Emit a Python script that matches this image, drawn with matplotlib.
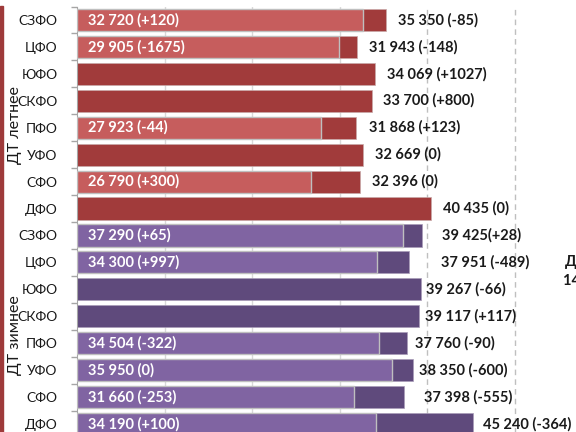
import matplotlib.pyplot as plt
from matplotlib.patches import Rectangle

plt.rcParams['font.family'] = ['Lato', 'DejaVu Sans']

regions = ['СЗФО', 'ЦФО', 'ЮФО', 'СКФО', 'ПФО', 'УФО', 'СФО', 'ДФО']

# летнее ДТ: полная цена и цена без наценки (None - нет данных)
summer_total = [35350, 31943, 34069, 33700, 31868, 32669, 32396, 40435]
summer_total_chg = ['-85', '-148', '+1027', '+800', '+123', '0', '0', '0']
summer_base = [32720, 29905, None, None, 27923, None, 26790, None]
summer_base_chg = ['+120', '-1675', None, None, '-44', None, '+300', None]

# зимнее ДТ
winter_total = [39425, 37951, 39267, 39117, 37760, 38350, 37398, 45240]
winter_total_chg = ['+28', '-489', '-66', '+117', '-90', '-600', '-555', '-364']
winter_base = [37290, 34300, None, None, 34504, 35950, 31660, 34190]
winter_base_chg = ['+65', '+997', None, None, '-322', '0', '-253', '+100']

# отступ подписи от конца столбца, px
summer_dx = [12, 12, 12, 11, 13, 12, 12, 12]
winter_dx = [20, 32, 5, 6, 8, 6, 20, 10]


def fmt(v):
    return f'{v:,}'.replace(',', ' ')


W, H = 576, 432
fig = plt.figure(figsize=(W / 100, H / 100), dpi=100)
x0 = 77
top, bottom = 6.5, 437.5
ax = fig.add_axes([x0 / W, (H - bottom) / H, (W - x0) / W, (bottom - top) / H])

scale = 87.5 / 10000  # px per рубль
ax.set_xlim(0, (W - x0) / scale)
n = len(regions) * 2
ax.set_ylim(n - 0.5, -0.5)

groups = [
    (summer_total, summer_total_chg, summer_base, summer_base_chg, summer_dx,
     '#A13B3B', '#C65D5D', ''),
    (winter_total, winter_total_chg, winter_base, winter_base_chg, winter_dx,
     '#5F4A7C', '#8064A2', '{}({})'),
]

bh = 0.82
for g, (tot, tchg, base, bchg, dxs, dark, light, _) in enumerate(groups):
    for i in range(len(regions)):
        y = g * len(regions) + i
        ax.barh(y, tot[i], height=bh, color=dark, edgecolor='#C9A9A9' if g == 0 else '#A99CB8',
                linewidth=0.5, zorder=2)
        if base[i] is not None:
            ax.barh(y, base[i], height=bh, color=light, edgecolor='#BFBFBF',
                    linewidth=1.0, zorder=3)
            ax.annotate(f'{fmt(base[i])} ({bchg[i]})', (0, y), xytext=(8, 0),
                        textcoords='offset points', va='center', ha='left',
                        color='white', fontsize=10.5, fontweight='bold', zorder=4)
        sep = '' if (g == 1 and i == 0) else ' '
        ax.annotate(f'{fmt(tot[i])}{sep}({tchg[i]})', (tot[i], y),
                    xytext=(dxs[i] * 0.72, 0), textcoords='offset points',
                    va='center', ha='left', color='#1A1A1A', fontsize=10.5,
                    fontweight='bold', zorder=4)

# сетка: сплошные и пунктирные линии
ax.set_xticks([10000, 20000, 30000, 40000, 50000])
ax.set_xticklabels([])
ax.tick_params(axis='x', length=0)
for xv in [10000, 20000, 30000]:
    ax.axvline(xv, color='#D9D9D9', linewidth=1.0, zorder=1)
for xv in [40000, 50000]:
    ax.axvline(xv, color='#BFBFBF', linewidth=1.0, linestyle=(0, (4, 3)), zorder=1)

ax.set_yticks(range(n))
ax.set_yticklabels(regions * 2, fontsize=10, color='#1A1A1A')
ax.set_yticks([k + 0.5 for k in range(-1, n)], minor=True)
ax.tick_params(axis='y', which='major', length=0, pad=14)
ax.tick_params(axis='y', which='minor', length=4, color='#A6A6A6', width=1)

for s in ['top', 'right', 'bottom']:
    ax.spines[s].set_visible(False)
ax.spines['left'].set_color('#A6A6A6')

# подписи групп
fig.text(15 / W, 1 - 125 / H, 'ДТ летнее', rotation=90, ha='center', va='center',
         fontsize=11.5, color='#1A1A1A')
fig.text(15 / W, 1 - 335 / H, 'ДТ зимнее', rotation=90, ha='center', va='center',
         fontsize=11.5, color='#1A1A1A')

# соседний блок справа
fig.text(565 / W, 1 - 262 / H, 'ДТ', ha='left', va='center', fontsize=10.5,
         fontweight='bold', color='#1A1A1A')
fig.text(563 / W, 1 - 281 / H, '14 000', ha='left', va='center', fontsize=10.5,
         fontweight='bold', color='#1A1A1A')

# рамка слева
fig.patches.append(Rectangle((0, 0), 2.5 / W, 1 - 6 / H, transform=fig.transFigure,
                             color='#9E3A3A', zorder=0))

fig.savefig('out.png', dpi=100)
